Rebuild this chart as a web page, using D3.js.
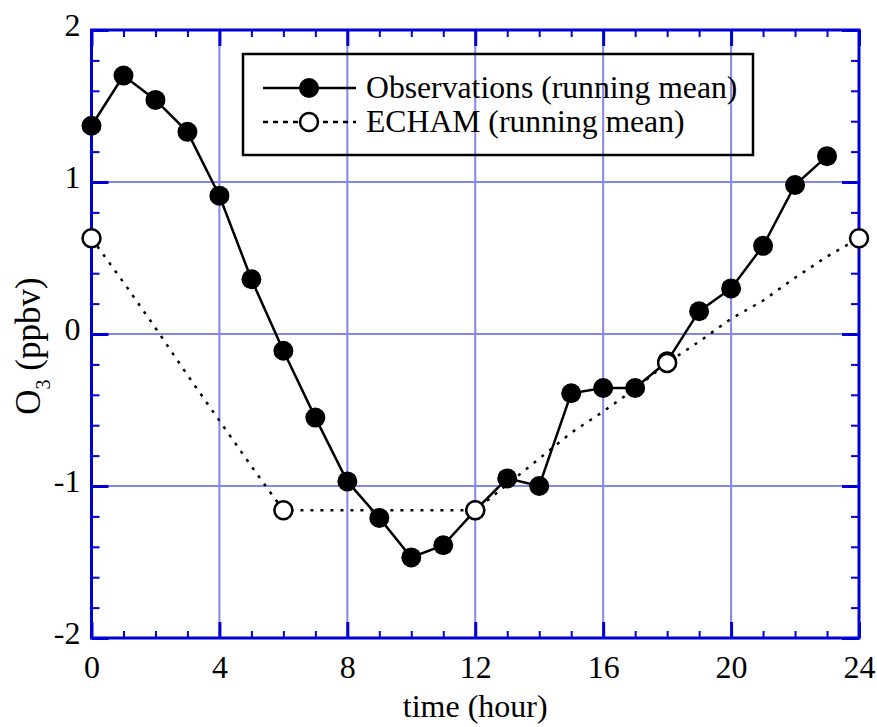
<!DOCTYPE html>
<html>
<head>
  <meta charset="utf-8">
  <title>O3 diurnal cycle</title>
  <script src="https://d3js.org/d3.v7.min.js"></script>
  <style>
    body { margin: 0; background: #fff; }
    text { font-family: "Liberation Serif", "Times New Roman", serif; fill: #000; }
  </style>
</head>
<body>
  <div id="chart"></div>

  <script>
    // Observed O3 anomaly, hourly running mean (hour 0..23)
    const obsHours = d3.range(0, 24);
    const obsValues = [1.37, 1.70, 1.54, 1.33, 0.91, 0.36, -0.11, -0.55, -0.97, -1.21, -1.47, -1.39,
                       -1.16, -0.95, -1.00, -0.39, -0.355, -0.355, -0.18, 0.15, 0.30, 0.58, 0.98, 1.17];

    // ECHAM model, read hourly along the dotted line (hour 0..24)
    const echamHours = d3.range(0, 25);
    const echamValues = [0.63, 0.34, 0.04, -0.27, -0.57, -0.87, -1.16, -1.16, -1.16, -1.16, -1.16, -1.16,
                         -1.16, -0.99, -0.82, -0.65, -0.51, -0.36, -0.19, -0.05, 0.10, 0.22, 0.37, 0.51, 0.63];
    // ECHAM markers only every 6 hours
    const echamMarkerHours = [0, 6, 12, 18, 24];

    const xMajor = [0, 4, 8, 12, 16, 20, 24];
    const xMinor = d3.range(0, 25);
    const yMajor = [-2, -1, 0, 1, 2];
    const yMinor = d3.range(-2, 2.001, 0.2).map(v => +v.toFixed(1));

    const legendLabels = ["Observations (running mean)", "ECHAM (running mean)"];

    const W = 877, H = 727;
    const frameColor = "#0000d8";
    const gridColor = "#8585ef";

    const svg = d3.select("#chart").append("svg")
      .attr("width", W)
      .attr("height", H);

    svg.append("rect").attr("width", W).attr("height", H).attr("fill", "#fff");

    const x = d3.scaleLinear().domain([0, 24]).range([91.5, 859]);
    const y = d3.scaleLinear().domain([-2, 2]).range([638, 30]);

    // grid lines at the major ticks
    svg.append("g").selectAll("line.gx")
      .data(xMajor.slice(1, -1))
      .enter().append("line")
      .attr("x1", d => x(d)).attr("x2", d => x(d))
      .attr("y1", y(2)).attr("y2", y(-2))
      .attr("stroke", gridColor).attr("stroke-width", 2);

    svg.append("g").selectAll("line.gy")
      .data(yMajor.slice(1, -1))
      .enter().append("line")
      .attr("x1", x(0)).attr("x2", x(24))
      .attr("y1", d => y(d)).attr("y2", d => y(d))
      .attr("stroke", gridColor).attr("stroke-width", 2);

    // inward ticks on all four sides
    function tickAxis(axisFn, scale, values, size, width, transform) {
      const g = svg.append("g")
        .attr("transform", transform)
        .call(axisFn(scale).tickValues(values).tickSize(-size).tickFormat(""));
      g.select(".domain").remove();
      g.selectAll(".tick line").attr("stroke", frameColor).attr("stroke-width", width);
    }
    const minorX = xMinor.filter(d => d % 4 !== 0);
    const minorY = yMinor.filter(d => !yMajor.includes(d));
    tickAxis(d3.axisBottom, x, minorX, 7, 2, `translate(0,${y(-2)})`);
    tickAxis(d3.axisTop, x, minorX, 7, 2, `translate(0,${y(2)})`);
    tickAxis(d3.axisLeft, y, minorY, 8, 2, `translate(${x(0)},0)`);
    tickAxis(d3.axisRight, y, minorY, 8, 2, `translate(${x(24)},0)`);
    tickAxis(d3.axisBottom, x, xMajor, 16, 3, `translate(0,${y(-2)})`);
    tickAxis(d3.axisTop, x, xMajor, 16, 3, `translate(0,${y(2)})`);
    tickAxis(d3.axisLeft, y, yMajor, 17, 3, `translate(${x(0)},0)`);
    tickAxis(d3.axisRight, y, yMajor, 17, 3, `translate(${x(24)},0)`);

    // frame
    svg.append("rect")
      .attr("x", x(0)).attr("y", y(2))
      .attr("width", x(24) - x(0)).attr("height", y(-2) - y(2))
      .attr("fill", "none").attr("stroke", frameColor).attr("stroke-width", 3);

    // tick labels (plain hyphen for negatives, as in the original)
    const plain = d => String(d);
    const xLab = svg.append("g")
      .attr("transform", `translate(0,${y(-2)})`)
      .call(d3.axisBottom(x).tickValues(xMajor).tickSize(0).tickPadding(17).tickFormat(plain));
    xLab.select(".domain").remove();
    xLab.selectAll("text").attr("font-size", 32).attr("font-family", "Liberation Serif");

    const yLab = svg.append("g")
      .attr("transform", `translate(${x(0)},0)`)
      .call(d3.axisLeft(y).tickValues(yMajor).tickSize(0).tickPadding(11).tickFormat(plain));
    yLab.select(".domain").remove();
    yLab.selectAll("text").attr("font-size", 32).attr("font-family", "Liberation Serif").attr("dy", "0.16em");

    // axis titles
    svg.append("text")
      .attr("x", (x(0) + x(24)) / 2)
      .attr("y", 717)
      .attr("text-anchor", "middle")
      .attr("font-size", 32)
      .text("time (hour)");

    const yTitle = svg.append("text")
      .attr("transform", "rotate(-90)")
      .attr("x", -346)
      .attr("y", 40)
      .attr("text-anchor", "middle")
      .attr("font-size", 35);
    yTitle.append("tspan").text("O");
    yTitle.append("tspan").attr("font-size", 20).attr("dy", 10).text("3");
    yTitle.append("tspan").attr("dy", -10).text(" (ppbv)");

    // lines
    const obsData = obsHours.map((h, i) => ({ h, v: obsValues[i] }));
    const echamData = echamHours.map((h, i) => ({ h, v: echamValues[i] }));
    const line = d3.line().x(d => x(d.h)).y(d => y(d.v));

    svg.append("path")
      .datum(obsData)
      .attr("d", line)
      .attr("fill", "none")
      .attr("stroke", "#000")
      .attr("stroke-width", 2.5);

    svg.append("path")
      .datum(echamData)
      .attr("d", line)
      .attr("fill", "none")
      .attr("stroke", "#000")
      .attr("stroke-width", 2.5)
      .attr("stroke-dasharray", "3,7");

    svg.append("g").selectAll("circle")
      .data(obsData)
      .enter().append("circle")
      .attr("cx", d => x(d.h))
      .attr("cy", d => y(d.v))
      .attr("r", 10)
      .attr("fill", "#000");

    svg.append("g").selectAll("circle")
      .data(echamData.filter(d => echamMarkerHours.includes(d.h)))
      .enter().append("circle")
      .attr("cx", d => x(d.h))
      .attr("cy", d => y(d.v))
      .attr("r", 9)
      .attr("fill", "#fff")
      .attr("stroke", "#000")
      .attr("stroke-width", 2.5);

    // legend
    svg.append("rect")
      .attr("x", 243).attr("y", 54)
      .attr("width", 510).attr("height", 101)
      .attr("fill", "none")
      .attr("stroke", "#000")
      .attr("stroke-width", 2.5);

    const legend = svg.selectAll(".legend")
      .data(legendLabels)
      .enter().append("g")
      .attr("class", "legend")
      .attr("transform", (d, i) => `translate(0,${88 + i * 34})`);

    legend.append("line")
      .attr("x1", 263).attr("x2", 356)
      .attr("stroke", "#000")
      .attr("stroke-width", 2.5)
      .attr("stroke-dasharray", (d, i) => i === 0 ? null : "5,5");

    legend.append("circle")
      .attr("cx", 309)
      .attr("r", (d, i) => i === 0 ? 10 : 9)
      .attr("fill", (d, i) => i === 0 ? "#000" : "#fff")
      .attr("stroke", "#000")
      .attr("stroke-width", (d, i) => i === 0 ? 0 : 2.5);

    legend.append("text")
      .attr("x", 366)
      .attr("y", 10)
      .attr("font-size", 31.7)
      .text(d => d);
  </script>
</body>
</html>
